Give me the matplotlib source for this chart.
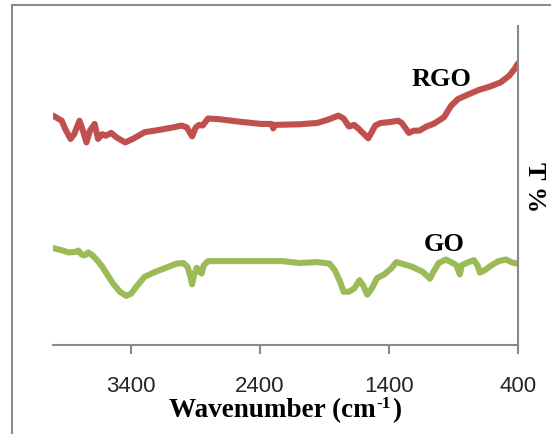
import matplotlib
matplotlib.use("Agg")
import matplotlib.pyplot as plt
from matplotlib.patches import Rectangle
from matplotlib.transforms import offset_copy

# ---- data ----
rgo_wn = [4000, 3932, 3905, 3864, 3836, 3795, 3768, 3741, 3714, 3678, 3651, 3618,
          3591, 3550, 3509, 3441, 3373, 3291, 3182, 3073, 3005, 2964, 2923, 2895,
          2868, 2841, 2800, 2718, 2555, 2391, 2309, 2295, 2282, 2091, 1955, 1873,
          1791, 1750, 1709, 1668, 1627, 1559, 1505, 1464, 1409, 1327, 1300, 1245,
          1205, 1164, 1109, 1055, 973, 918, 864, 782, 700, 618, 536, 468, 427, 400]
rgo_t = [71.9, 70.3, 67.7, 64.6, 66.1, 70.3, 67.2, 63.5, 67.2, 69.3, 64.6, 66.1,
         65.6, 66.5, 65.1, 63.5, 64.8, 66.7, 67.4, 68.2, 68.8, 68.2, 65.4, 68.2,
         69.0, 68.8, 71.0, 70.8, 70.0, 69.3, 69.3, 67.9, 69.0, 69.2, 69.6, 70.6,
         71.9, 71.0, 68.5, 69.0, 67.5, 64.8, 68.8, 69.6, 69.8, 70.3, 69.6, 66.5,
         67.2, 67.2, 68.5, 69.3, 71.4, 75.0, 77.1, 78.6, 80.0, 81.0, 82.3, 84.4,
         86.5, 88.3]

go_wn = [4000, 3932, 3877, 3823, 3804, 3776, 3755, 3727, 3695, 3659, 3618, 3577,
         3536, 3482, 3433, 3395, 3345, 3291, 3209, 3127, 3045, 2991, 2958, 2936,
         2923, 2909, 2887, 2868, 2849, 2833, 2800, 2718, 2500, 2227, 2091, 1955,
         1859, 1818, 1777, 1750, 1709, 1668, 1627, 1600, 1567, 1532, 1491, 1436,
         1382, 1341, 1300, 1218, 1136, 1082, 1055, 1014, 959, 905, 877, 850, 836,
         782, 741, 714, 695, 659, 605, 550, 495, 441, 400]
go_t = [30.4, 29.7, 29.0, 29.2, 29.6, 28.3, 28.1, 29.0, 28.1, 26.6, 24.5, 21.9,
        19.3, 16.7, 15.4, 16.1, 18.8, 21.4, 22.9, 24.2, 25.5, 25.7, 24.5, 21.4,
        19.0, 21.9, 24.2, 23.1, 22.4, 25.0, 26.3, 26.3, 26.3, 26.3, 25.7, 26.0,
        25.5, 23.4, 19.8, 16.7, 16.7, 17.7, 20.3, 18.8, 15.8, 17.7, 21.0, 22.1,
        24.0, 26.0, 25.5, 24.5, 22.9, 20.8, 22.9, 25.7, 26.8, 25.7, 25.0, 22.1,
        25.0, 26.0, 26.6, 25.0, 22.7, 23.4, 25.0, 26.3, 26.8, 25.8, 25.5]

xticks = [3400, 2400, 1400, 400]
xtick_labels = ["3400", "2400", "1400", "400"]

W, H = 551, 435
fig = plt.figure(figsize=(W / 100, H / 100), dpi=100)
ax = fig.add_axes([53 / W, 1 - 346 / H, (518 - 53) / W, (346 - 27) / H])

red = '#C0504D'
green = '#9BBB59'
ax.plot(rgo_wn, rgo_t, color=red, lw=4.4, solid_joinstyle='round', solid_capstyle='round')
ax.plot(go_wn, go_t, color=green, lw=4.4, solid_joinstyle='round', solid_capstyle='round')

ax.set_xlim(4000, 400)
ax.set_ylim(0, 100)
ax.set_xticks(xticks)
ax.set_xticklabels(xtick_labels, family='Liberation Sans', fontsize=16)
ax.set_yticks([])

spine_c = '#898989'
for s in ['top', 'left']:
    ax.spines[s].set_visible(False)
for s in ['bottom', 'right']:
    ax.spines[s].set_color(spine_c)
    ax.spines[s].set_linewidth(1.5)
ax.tick_params(axis='x', length=6.5, width=1.5, color=spine_c, pad=15, labelcolor='#262626')


def px(xp, yp):
    return xp / W, 1 - yp / H


serif = dict(family='Liberation Serif', weight='bold', color='black')
fig.text(*px(441, 86), 'RGO', fontsize=19, ha='center', va='baseline', **serif)
fig.text(*px(444, 251), 'GO', fontsize=19, ha='center', va='baseline', **serif)
fig.text(*px(534, 187), 'T %', fontsize=19, ha='center', va='center', rotation=-90, **serif)

# x-axis title built from pieces so the superscript is small like the reference
base_x, base_y = px(165, 417)
t1 = fig.text(base_x, base_y, 'Wavenumber (cm', fontsize=19.5, ha='left', va='baseline', **serif)
fig.canvas.draw()
r = fig.canvas.get_renderer()
e1 = t1.get_window_extent(r)
t2 = fig.text(e1.x1 / W + 1 / W, base_y + 9 / H, '-1', fontsize=12.5, ha='left', va='baseline', **serif)
e2 = t2.get_window_extent(r)
t3 = fig.text(e2.x1 / W + 0.5 / W, base_y, ')', fontsize=19.5, ha='left', va='baseline', **serif)
e3 = t3.get_window_extent(r)
total = e3.x1 - e1.x0
shift = (285 - total / 2) - e1.x0
for t in (t1, t2, t3):
    x, y = t.get_position()
    t.set_position((x + shift / W, y))

fig.patches.append(Rectangle((12 / W, -0.1), 1.2, (H - 6) / H + 0.1, transform=fig.transFigure,
                             fill=False, edgecolor='#8c8c8c', lw=1.5, clip_on=False))

fig.savefig('out.png', dpi=100)
